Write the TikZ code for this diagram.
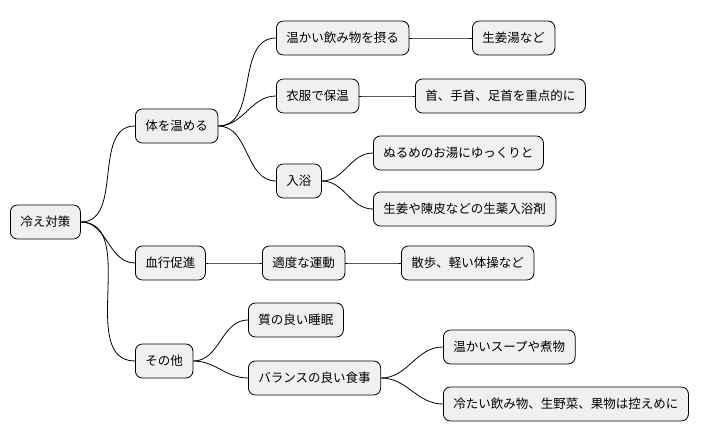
\documentclass[tikz,border=0pt]{standalone}
\usepackage{fontspec}
\setmainfont{Noto Sans CJK JP}
\usetikzlibrary{positioning}
\tikzset{
  topic/.style={rectangle, rounded corners=7pt, draw=black, line width=0.8pt,
    fill=black!6, minimum height=34pt, inner xsep=10pt, anchor=west,
    font=\fontsize{12.5pt}{14pt}\selectfont},
  branch/.style={draw=black, line width=0.8pt}
}
\begin{document}
\begin{tikzpicture}[x=1pt, y=-1pt]
  \useasboundingbox (0,0) rectangle (726,443);
  % root and first level
  \node[topic] (root) at (10,222) {冷え対策};
  \node[topic] (warm) at (135,126) {体を温める};
  \node[topic] (blood) at (135,263) {血行促進};
  \node[topic] (other) at (135,361) {その他};

  % warm the body
  \node[topic] (drink) at (276,38) {温かい飲み物を摂る};
  \node[topic] (ginger) at (472,38) {生姜湯など};
  \node[topic] (cloth) at (276,96) {衣服で保温};
  \node[topic] (neck) at (415,96) {首、手首、足首を重点的に};
  \node[topic] (bath) at (276,181) {入浴};
  \node[topic] (lukewarm) at (373,153) {ぬるめのお湯にゆっくりと};
  \node[topic] (herb) at (373,209) {生姜や陳皮などの生薬入浴剤};

  % circulation
  \node[topic] (exercise) at (262,263) {適度な運動};
  \node[topic] (walk) at (401,263) {散歩、軽い体操など};

  % others
  \node[topic] (sleep) at (248,320) {質の良い睡眠};
  \node[topic] (meal) at (248,378) {バランスの良い食事};
  \node[topic] (soup) at (443,347) {温かいスープや煮物};
  \node[topic] (cold) at (443,404) {冷たい飲み物、生野菜、果物は控えめに};

  \foreach \a/\b in {root/warm, root/blood, root/other,
      warm/drink, drink/ginger, warm/cloth, cloth/neck, warm/bath,
      bath/lukewarm, bath/herb, blood/exercise, exercise/walk,
      other/sleep, other/meal, meal/soup, meal/cold}
    \draw[branch] (\a.east) to[out=0, in=180] (\b.west);
\end{tikzpicture}
\end{document}
